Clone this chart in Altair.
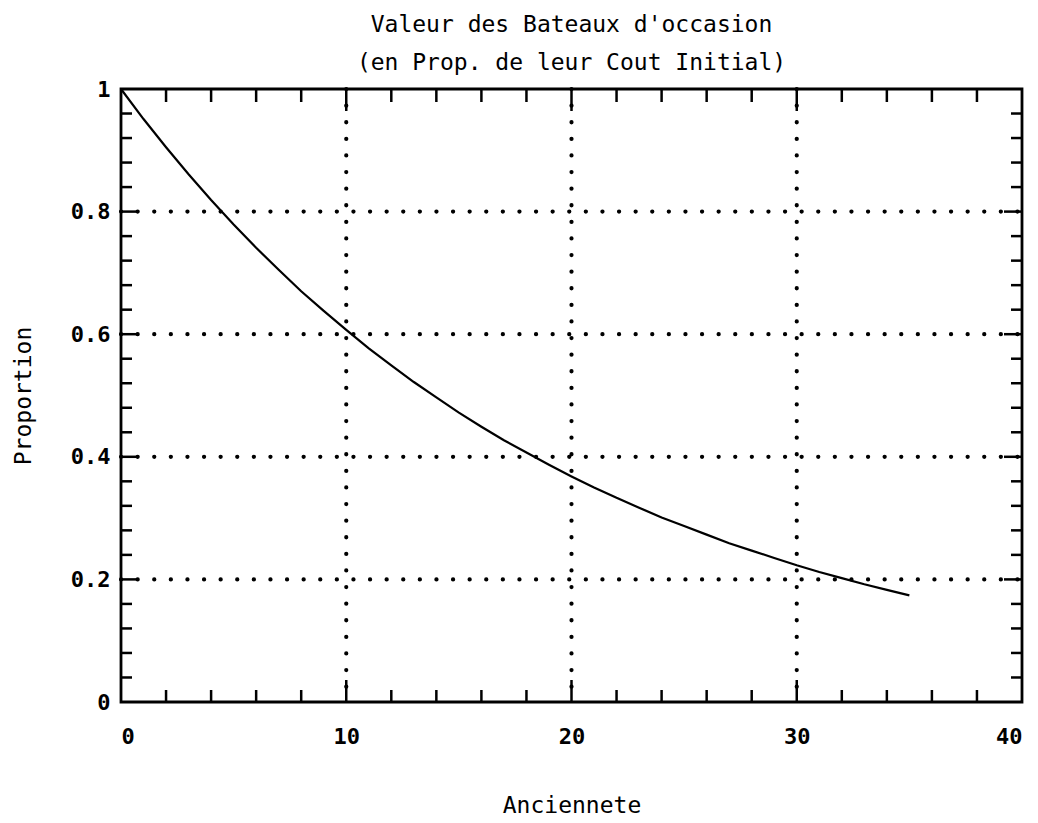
import altair as alt
import pandas as pd

# Curve values (age in years -> proportion of initial cost)
age = list(range(0, 36))
proportion = [1.000, 0.951, 0.905, 0.861, 0.819, 0.779, 0.741, 0.705, 0.670, 0.638,
              0.607, 0.577, 0.549, 0.522, 0.497, 0.472, 0.449, 0.427, 0.407, 0.387,
              0.368, 0.350, 0.333, 0.317, 0.301, 0.287, 0.273, 0.259, 0.247, 0.235,
              0.223, 0.212, 0.202, 0.192, 0.183, 0.174]

x_labels = [0, 10, 20, 30, 40]
y_labels = [0, 0.2, 0.4, 0.6, 0.8, 1]
x_grid = [10, 20, 30]
y_grid = [0.2, 0.4, 0.6, 0.8]
x_minor = [2, 4, 6, 8, 12, 14, 16, 18, 22, 24, 26, 28, 32, 34, 36, 38]
y_minor = [0.04, 0.08, 0.12, 0.16, 0.24, 0.28, 0.32, 0.36, 0.44, 0.48, 0.52, 0.56,
           0.64, 0.68, 0.72, 0.76, 0.84, 0.88, 0.92, 0.96]

W, H = 901, 613
FONT = "DejaVu Sans Mono"

curve = pd.DataFrame({"age": age, "p": proportion})
xs = alt.Scale(domain=[0, 40], nice=False)
ys = alt.Scale(domain=[0, 1], nice=False)

base = alt.Chart(curve).mark_line(color="black", strokeWidth=2.2).encode(
    x=alt.X("age:Q", scale=xs,
            axis=alt.Axis(values=x_labels, title="Anciennete", grid=False, domain=False,
                          ticks=False, labelPadding=24, labelFontSize=22,
                          labelFontWeight="bold", labelFont=FONT, labelColor="black",
                          titleFont=FONT, titleFontSize=23, titleFontWeight="normal",
                          titleColor="black", titlePadding=47)),
    y=alt.Y("p:Q", scale=ys,
            axis=alt.Axis(values=y_labels, title="Proportion", grid=False, domain=False,
                          ticks=False, labelPadding=11, labelFontSize=22, format="~g",
                          labelFontWeight="bold", labelFont=FONT, labelColor="black",
                          titleFont=FONT, titleFontSize=23, titleFontWeight="normal",
                          titleColor="black", titlePadding=35)),
)

dot = dict(color="black", strokeWidth=4.2, strokeCap="round", strokeDash=[0.1, 16.5])
gx = alt.Chart(pd.DataFrame({"v": x_grid})).mark_rule(**dot).encode(
    x=alt.X("v:Q", scale=xs), y=alt.value(0), y2=alt.value(H))
gy = alt.Chart(pd.DataFrame({"v": y_grid})).mark_rule(**dot).encode(
    y=alt.Y("v:Q", scale=ys), x=alt.value(0), x2=alt.value(W))

tk = dict(color="black", strokeWidth=2.5)
xmaj = [10, 20, 30]
ymaj = [0.2, 0.4, 0.6, 0.8]
def xt(vals, y1, y2):
    return alt.Chart(pd.DataFrame({"v": vals})).mark_rule(**tk).encode(
        x=alt.X("v:Q", scale=xs), y=alt.value(y1), y2=alt.value(y2))
def yt(vals, x1, x2):
    return alt.Chart(pd.DataFrame({"v": vals})).mark_rule(**tk).encode(
        y=alt.Y("v:Q", scale=ys), x=alt.value(x1), x2=alt.value(x2))

ticks = [
    xt(x_minor, H, H - 12), xt(xmaj, H, H - 22),
    xt(x_minor, 0, 13), xt(xmaj, 0, 22),
    yt(y_minor, 0, 11), yt(ymaj, 0, 18),
    yt(y_minor, W, W - 11), yt(ymaj, W, W - 18),
]

frame = alt.Chart(pd.DataFrame({"v": [0]})).mark_rect(
    fillOpacity=0, stroke="black", strokeWidth=2.8).encode(
    x=alt.value(0), x2=alt.value(W), y=alt.value(0), y2=alt.value(H))

chart = alt.layer(gx, gy, *ticks, frame, base).properties(
    width=W, height=H,
    title=alt.TitleParams(["Valeur des Bateaux d'occasion", "(en Prop. de leur Cout Initial)"],
                          font=FONT, fontSize=23, fontWeight="normal", color="black",
                          lineHeight=38, offset=3, anchor="middle"),
    autosize=alt.AutoSizeParams(type="none"),
    padding={"left": 121, "top": 89, "right": 16, "bottom": 121},
).configure_view(stroke=None).configure(background="white")

chart.save("out.html", embed_options={"renderer": "svg", "actions": False})
